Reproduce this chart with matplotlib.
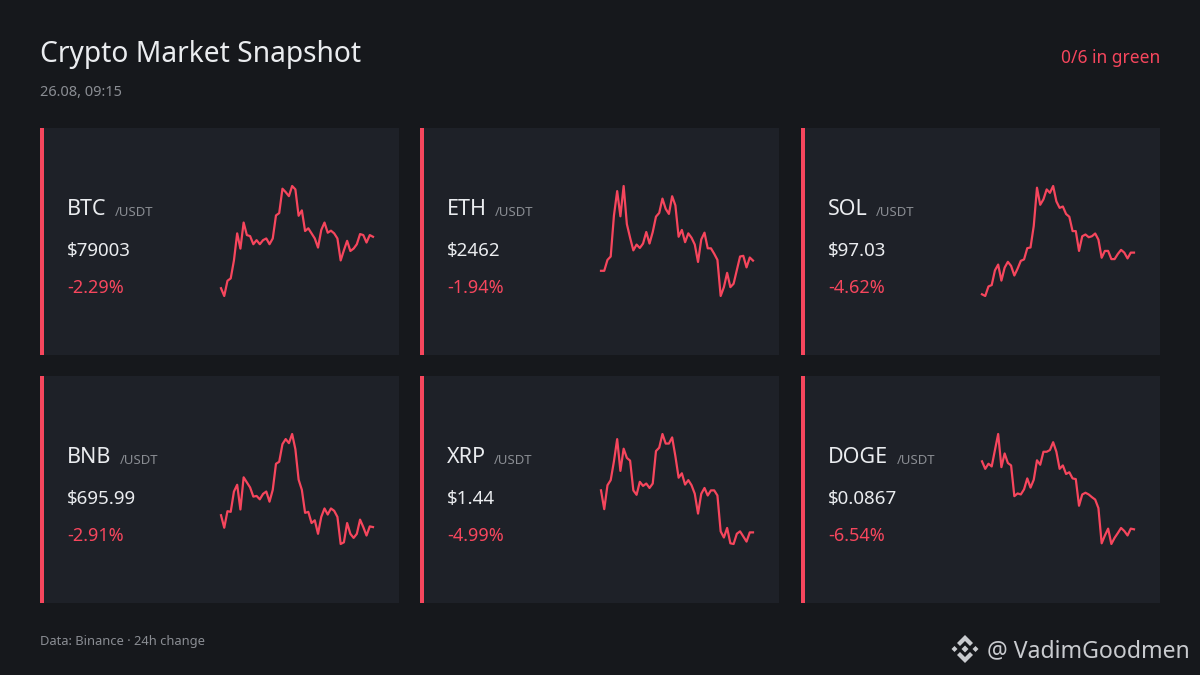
import matplotlib
matplotlib.use("Agg")
import matplotlib.pyplot as plt
from matplotlib.patches import Rectangle, Polygon

plt.rcParams['font.family'] = ['Noto Sans', 'DejaVu Sans']

# colours
BG = '#16181c'
CARD = '#1e2128'
RED = '#f6465d'
WHITE = '#eaecef'
GRAY = '#8a8d93'

# data
tickers = ['BTC', 'ETH', 'SOL', 'BNB', 'XRP', 'DOGE']
prices = ['$79003', '$2462', '$97.03', '$695.99', '$1.44', '$0.0867']
changes = [-2.29, -1.94, -4.62, -2.91, -4.99, -6.54]

# sparkline levels (relative height, 48 half-hour points)
btc = [68, 45, 90, 97, 150, 230, 185, 262, 225, 222, 198, 210, 198, 210, 215, 198,
       215, 283, 290, 362, 352, 340, 370, 360, 282, 298, 237, 245, 230, 215, 188, 240,
       262, 232, 238, 230, 215, 150, 180, 208, 178, 185, 198, 228, 225, 203, 225, 220]
eth = [118, 118, 150, 160, 280, 352, 278, 367, 255, 215, 178, 195, 185, 198, 232, 198,
       232, 277, 288, 330, 300, 285, 337, 310, 218, 238, 202, 228, 215, 195, 144, 210,
       230, 184, 184, 168, 150, 44, 70, 112, 70, 80, 120, 160, 162, 128, 157, 148]
sol = [50, 45, 73, 77, 120, 137, 90, 128, 145, 133, 105, 125, 148, 152, 185, 187,
       250, 362, 312, 328, 357, 347, 367, 322, 303, 307, 285, 277, 235, 235, 177, 220,
       225, 217, 220, 228, 210, 157, 177, 177, 153, 153, 168, 180, 172, 155, 172, 172]
bnb = [135, 98, 147, 145, 205, 225, 152, 247, 232, 217, 190, 192, 182, 198, 205, 175,
       210, 287, 293, 345, 360, 348, 375, 330, 240, 210, 142, 145, 112, 120, 80, 130,
       155, 137, 155, 148, 130, 50, 55, 112, 80, 68, 80, 122, 100, 75, 102, 100]
xrp = [205, 150, 220, 235, 290, 355, 262, 327, 300, 292, 205, 192, 230, 218, 225, 212,
       225, 320, 330, 370, 342, 342, 360, 305, 242, 255, 222, 235, 220, 195, 137, 195,
       212, 190, 205, 205, 190, 85, 67, 95, 50, 48, 78, 85, 70, 55, 82, 82]
doge = [292, 270, 285, 277, 325, 372, 275, 315, 287, 280, 190, 198, 195, 210, 242, 215,
        238, 295, 282, 320, 320, 325, 348, 320, 270, 280, 255, 260, 242, 240, 162, 195,
        200, 195, 187, 180, 155, 52, 75, 95, 50, 68, 82, 97, 88, 75, 95, 93]
series = [btc, eth, sol, bnb, xrp, doge]

W, H = 1200, 675
fig = plt.figure(figsize=(12, 6.75), dpi=100, facecolor=BG)
ax = fig.add_axes([0, 0, 1, 1])
ax.set_xlim(0, W)
ax.set_ylim(H, 0)
ax.axis('off')

# header
ax.text(40, 62, 'Crypto Market Snapshot', color=WHITE, fontsize=20.3, va='baseline')
ax.text(40, 96, '26.08, 09:15', color=GRAY, fontsize=10.5, va='baseline')
n_green = sum(1 for c in changes if c > 0)
ax.text(1160, 63, f'{n_green}/{len(changes)} in green', color=RED, fontsize=12.5,
        va='baseline', ha='right')

card_x = [40, 420, 801]
card_y = [128, 376]
card_w, card_h = 359, 227

for i, tk in enumerate(tickers):
    cx = card_x[i % 3]
    cy = card_y[i // 3]
    ax.add_patch(Rectangle((cx, cy), card_w, card_h, facecolor=CARD, lw=0))
    ax.add_patch(Rectangle((cx, cy), 4, card_h, facecolor=RED, lw=0))

    t = ax.text(cx + 27, cy + 87, tk, color=WHITE, fontsize=15.5, va='baseline')
    ax.annotate('/USDT', xy=(1, 0), xycoords=t, xytext=(6, 0.5),
                textcoords='offset points', color=GRAY, fontsize=9.5, va='bottom')
    ax.text(cx + 27, cy + 128, prices[i], color=WHITE, fontsize=13.5, va='baseline')
    ch = changes[i]
    ax.text(cx + 27, cy + 165, f'{ch:+.2f}%', color=RED if ch < 0 else '#0ecb81',
            fontsize=13, va='baseline')

    # sparkline
    sx, sy, sw, sh = cx + 181, cy + 58, 152, 110
    sp = fig.add_axes([sx / W, 1 - (sy + sh) / H, sw / W, sh / H])
    vals = series[i]
    sp.plot(range(len(vals)), vals, color=RED, lw=1.6, solid_joinstyle='round')
    sp.set_xlim(0, len(vals) - 1)
    sp.set_ylim(min(vals), max(vals))
    sp.axis('off')
    sp.patch.set_alpha(0)
    for ln in sp.lines:
        ln.set_clip_on(False)

# footer
ax.text(40, 645, 'Data: Binance · 24h change', color=GRAY, fontsize=9.3, va='baseline')
ax.text(1190, 657, '@ VadimGoodmen', color='#c9cbcf', fontsize=16.6, va='baseline', ha='right')

# binance logo
lx, ly = 965, 649
logo = '#c9cbcf'
def diamond(x, y, r):
    return Polygon([(x, y - r), (x + r, y), (x, y + r), (x - r, y)], closed=True,
                   facecolor=logo, lw=0)
ax.add_patch(diamond(lx, ly, 3.5))
ax.add_patch(diamond(lx - 10.5, ly, 3))
ax.add_patch(diamond(lx + 10.5, ly, 3))
# top and bottom chevrons
for sgn in (-1, 1):
    chev = [(lx - 8, ly + sgn * 6), (lx, ly + sgn * 14), (lx + 8, ly + sgn * 6),
            (lx + 5, ly + sgn * 3), (lx, ly + sgn * 8), (lx - 5, ly + sgn * 3)]
    ax.add_patch(Polygon(chev, closed=True, facecolor=logo, lw=0))

fig.savefig('out.png', dpi=100, facecolor=BG)
